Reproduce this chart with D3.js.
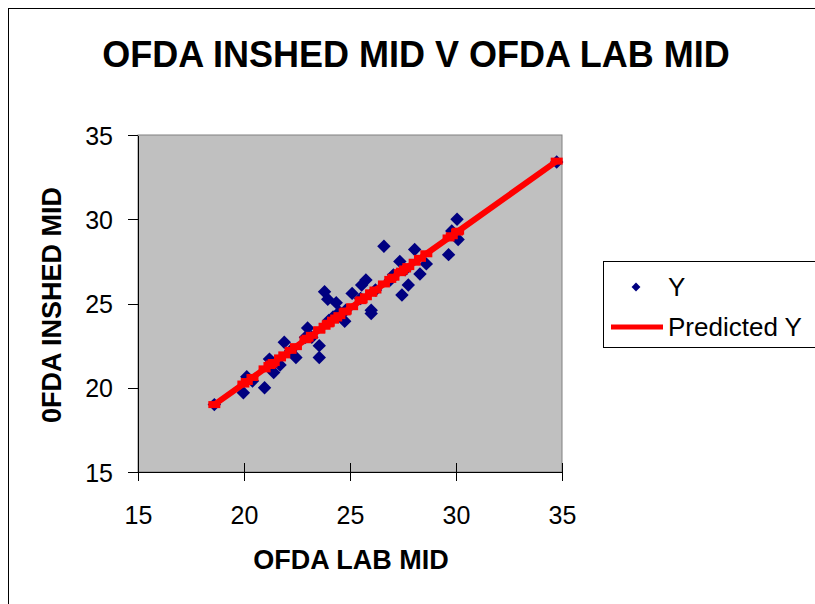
<!DOCTYPE html>
<html>
  <head>
    <script src="https://d3js.org/d3.v7.min.js"></script>
    <style>
        body { margin: 0; background: #fff; }
        text { font-family: Arial, "Liberation Sans", sans-serif; }
        .axis text { font-size: 25px; fill: #000; }
        .axis path, .axis line { stroke: #000; shape-rendering: crispEdges; }
        .title { font-size: 36px; font-weight: bold; text-anchor: middle; }
        .axis-title { font-size: 27px; font-weight: bold; text-anchor: middle; }
        .legend text { font-size: 26px; }
    </style>
  </head>
  <body>
    <svg width="815" height="604"></svg>
    <script>
        // OFDA LAB MID (x) vs OFDA INSHED MID (y), with the fitted values
        const labMid = [18.6, 19.97, 20.13, 20.4, 20.97, 21.2, 21.3, 21.4, 21.7, 21.9,
            22.2, 22.45, 22.9, 23.0, 23.2, 23.55, 23.55, 23.8, 23.95, 24.0,
            24.2, 24.35, 24.5, 24.75, 24.8, 25.1, 25.5, 25.55, 25.75, 26.0,
            26.0, 26.2, 26.6, 26.9, 27.05, 27.35, 27.45, 27.6, 27.75, 28.05,
            28.3, 28.6, 29.65, 29.8, 30.05, 30.1, 34.75];
        const inshedMid = [19.0, 19.7, 20.65, 20.4, 20.0, 21.7, 21.4, 20.9, 21.35, 22.7,
            22.2, 21.8, 23.0, 23.55, 23.0, 22.5, 21.8, 25.7, 25.25, 24.0,
            24.2, 25.05, 24.5, 23.95, 24.6, 25.6, 25.3, 26.1, 26.4, 24.6,
            24.4, 25.8, 28.4, 26.4, 26.7, 27.5, 25.5, 27.0, 26.1, 28.2,
            26.75, 27.35, 27.9, 29.3, 30.0, 28.8, 33.4];
        const predictedY = [19.00, 20.22, 20.37, 20.61, 21.12, 21.32, 21.41, 21.50, 21.77, 21.95,
            22.22, 22.44, 22.85, 22.94, 23.11, 23.43, 23.43, 23.65, 23.79, 23.83,
            24.01, 24.14, 24.28, 24.50, 24.55, 24.81, 25.17, 25.22, 25.40, 25.62,
            25.62, 25.80, 26.16, 26.43, 26.56, 26.83, 26.92, 27.05, 27.19, 27.45,
            27.68, 27.95, 28.89, 29.02, 29.24, 29.29, 33.45];
        const xTicks = [15, 20, 25, 30, 35];
        const yTicks = [15, 20, 25, 30, 35];
        const seriesNames = ["Y", "Predicted Y"];

        const points = labMid.map((x, i) => ({x: x, y: inshedMid[i], p: predictedY[i]}));

        const svg = d3.select("svg");

        // outer chart frame (runs off the right and bottom edges)
        svg.append("rect")
            .attr("x", 8.5).attr("y", 8.5)
            .attr("width", 830).attr("height", 620)
            .attr("fill", "#fff")
            .attr("stroke", "#000");

        const margin = {top: 135, left: 138},
            width = 424,
            height = 337;

        const g = svg.append("g")
            .attr("transform", `translate(${margin.left},${margin.top})`);

        const x = d3.scaleLinear().domain([15, 35]).range([0, width]);
        const y = d3.scaleLinear().domain([15, 35]).range([height, 0]);

        // plot area
        g.append("rect")
            .attr("width", width)
            .attr("height", height)
            .attr("fill", "#c0c0c0")
            .attr("stroke", "#808080");

        // axes
        g.append("g")
            .attr("class", "axis")
            .attr("transform", `translate(0,${height})`)
            .call(d3.axisBottom(x).tickValues(xTicks).tickSize(9).tickSizeOuter(0).tickPadding(25))
            .call(a => a.selectAll(".tick line").attr("y1", -9));

        g.append("g")
            .attr("class", "axis")
            .call(d3.axisLeft(y).tickValues(yTicks).tickSize(10).tickSizeOuter(0).tickPadding(15))
            .call(a => a.selectAll(".tick text").attr("dy", "0.36em"));

        // predicted line
        const line = d3.line()
            .x(d => x(d.x))
            .y(d => y(d.p));

        // actual points as diamonds
        const diamond = d3.symbol().type(d3.symbolDiamond2).size(115);
        g.selectAll(".dot")
            .data(points)
            .enter().append("path")
            .attr("class", "dot")
            .attr("transform", d => `translate(${x(d.x)},${y(d.y)})`)
            .attr("d", diamond)
            .attr("fill", "#000080");

        g.append("path")
            .datum(points)
            .attr("d", line)
            .attr("fill", "none")
            .attr("stroke", "#ff0000")
            .attr("stroke-width", 6);

        g.selectAll(".pmark")
            .data(points)
            .enter().append("rect")
            .attr("class", "pmark")
            .attr("x", d => x(d.x) - 6)
            .attr("y", d => y(d.p) - 3.5)
            .attr("width", 12)
            .attr("height", 7)
            .attr("fill", "#ff0000");

        // titles
        svg.append("text")
            .attr("class", "title")
            .attr("x", 416)
            .attr("y", 67)
            .text("OFDA INSHED MID V OFDA LAB MID");

        svg.append("text")
            .attr("class", "axis-title")
            .attr("x", 351)
            .attr("y", 569)
            .text("OFDA LAB MID");

        svg.append("text")
            .attr("class", "axis-title")
            .attr("transform", "translate(61,305) rotate(-90)")
            .text("0FDA INSHED MID");

        // legend
        const legend = svg.append("g").attr("class", "legend");
        legend.append("rect")
            .attr("x", 603.5).attr("y", 261.5)
            .attr("width", 230).attr("height", 86)
            .attr("fill", "#fff")
            .attr("stroke", "#000");
        legend.append("path")
            .attr("transform", "translate(636,287)")
            .attr("d", d3.symbol().type(d3.symbolDiamond2).size(50))
            .attr("fill", "#000080");
        legend.append("text")
            .attr("x", 668).attr("y", 296)
            .text(seriesNames[0]);
        legend.append("line")
            .attr("x1", 611).attr("x2", 663)
            .attr("y1", 327).attr("y2", 327)
            .attr("stroke", "#ff0000")
            .attr("stroke-width", 5);
        legend.append("text")
            .attr("x", 668).attr("y", 336)
            .text(seriesNames[1]);
    </script>
  </body>
</html>
